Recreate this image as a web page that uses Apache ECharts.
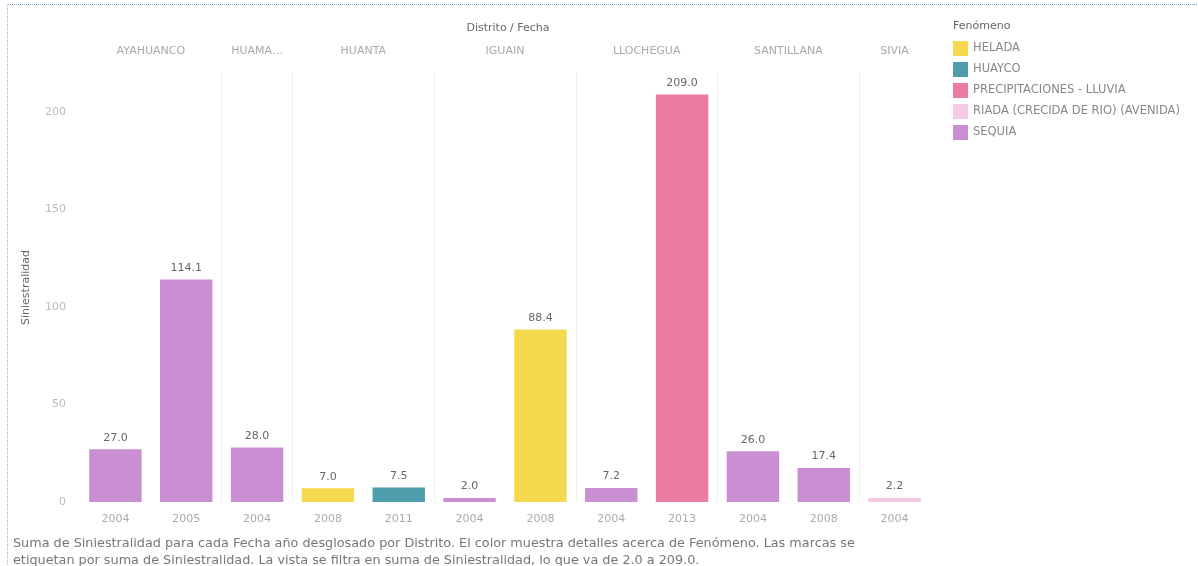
<!DOCTYPE html>
<html>
<head>
<meta charset="utf-8">
<script src="https://cdn.jsdelivr.net/npm/echarts@6/dist/echarts.min.js"></script>
<style>
  html, body { margin: 0; padding: 0; background: #fff; }
  #wrap { position: relative; width: 1198px; height: 566px; }
  #chart { position: absolute; left: 0; top: 0; width: 1198px; height: 566px; }
  #frame { position: absolute; left: 7px; top: 4px; width: 1191px; height: 562px;
           border-top: 1px dotted #6f9fd8; border-left: 1px dotted #8fb4e0; pointer-events: none; }
</style>
</head>
<body>
<div id="wrap"><div id="chart"></div><div id="frame"></div></div>
<script>
// ---- Data ----
const districtNames = ['AYAHUANCO', 'HUAMA…', 'HUANTA', 'IGUAIN', 'LLOCHEGUA', 'SANTILLANA', 'SIVIA'];
const barDistrict = [0, 0, 1, 2, 2, 3, 3, 4, 4, 5, 5, 6];
const barYears = ['2004', '2005', '2004', '2008', '2011', '2004', '2008', '2004', '2013', '2004', '2008', '2004'];
const barValues = [27.0, 114.1, 28.0, 7.0, 7.5, 2.0, 88.4, 7.2, 209.0, 26.0, 17.4, 2.2];
const barFenomeno = ['SEQUIA', 'SEQUIA', 'SEQUIA', 'HELADA', 'HUAYCO', 'SEQUIA', 'HELADA', 'SEQUIA',
                     'PRECIPITACIONES - LLUVIA', 'SEQUIA', 'SEQUIA', 'RIADA (CRECIDA DE RIO) (AVENIDA)'];
const fenomenos = ['HELADA', 'HUAYCO', 'PRECIPITACIONES - LLUVIA', 'RIADA (CRECIDA DE RIO) (AVENIDA)', 'SEQUIA'];
const fenomenoColors = ['#f6d84e', '#4f9dad', '#ec7ba3', '#f6cae3', '#c98fd2'];
const yTicks = [0, 50, 100, 150, 200];

// ---- Build district header axis (half-slot points) ----
const nSlots = barYears.length;
const headerData = new Array(2 * nSlots + 1).fill('');
const separators = [];
districtNames.forEach((name, d) => {
  const idx = barDistrict.map((v, i) => v === d ? i : -1).filter(i => i >= 0);
  const a = idx[0], b = idx[idx.length - 1];
  headerData[a + b + 1] = name;
  if (a > 0) separators.push(2 * a);
});

const series = fenomenos.map((f, k) => ({
  name: f,
  type: 'bar',
  stack: 'total',
  xAxisIndex: 0,
  barCategoryGap: '26%',
  itemStyle: { color: fenomenoColors[k] },
  label: {
    show: true, position: 'top', distance: 6,
    color: '#666', fontSize: 11, fontFamily: 'DejaVu Sans',
    formatter: p => (typeof p.value === 'number' ? p.value.toFixed(1) : '')
  },
  data: barValues.map((v, i) => barFenomeno[i] === f ? v : '-')
}));

const chart = echarts.init(document.getElementById('chart'));
chart.setOption({
  animation: false,
  backgroundColor: '#fff',
  title: [
    { text: 'Distrito / Fecha', left: 503, top: 18, textAlign: 'center',
      textStyle: { fontSize: 11, fontWeight: 'normal', color: '#666', fontFamily: 'DejaVu Sans' } },
    { text: 'Fenómeno', left: 948, top: 16,
      textStyle: { fontSize: 11, fontWeight: 'normal', color: '#666', fontFamily: 'DejaVu Sans' } },
    { text: 'Suma de Siniestralidad para cada Fecha año desglosado por Distrito. El color muestra detalles acerca de Fenómeno. Las marcas se\netiquetan por suma de Siniestralidad. La vista se filtra en suma de Siniestralidad, lo que va de 2.0 a 209.0.',
      left: 8, top: 530,
      textStyle: { fontSize: 12.8, fontWeight: 'normal', color: '#777', lineHeight: 17, fontFamily: 'DejaVu Sans' } }
  ],
  legend: {
    data: fenomenos,
    orient: 'vertical', left: 948, top: 36,
    itemWidth: 15, itemHeight: 15, itemGap: 6,
    icon: 'rect',
    textStyle: { fontSize: 11.5, color: '#888', fontFamily: 'DejaVu Sans' }
  },
  grid: { left: 80, right: 268, top: 73, bottom: 64 },
  xAxis: [
    {
      type: 'category', data: barYears, position: 'bottom',
      axisLine: { show: false }, axisTick: { show: false },
      axisLabel: { color: '#aaa', fontSize: 11, margin: 12, fontFamily: 'DejaVu Sans' },
      splitLine: { show: false }
    },
    {
      type: 'category', data: headerData, position: 'top', boundaryGap: false,
      axisLine: { show: false }, axisTick: { show: false },
      axisLabel: { interval: 0, color: '#aaa', fontSize: 11, margin: 16, fontFamily: 'DejaVu Sans' },
      splitLine: { show: true, interval: (i) => separators.includes(i),
                   lineStyle: { color: '#eeeeee', width: 1 } }
    }
  ],
  yAxis: {
    type: 'value', min: yTicks[0], max: 220, interval: yTicks[1] - yTicks[0],
    name: 'Siniestralidad', nameLocation: 'middle', nameGap: 48, nameRotate: 90,
    nameTextStyle: { color: '#666', fontSize: 11, fontFamily: 'DejaVu Sans' },
    axisLine: { show: false }, axisTick: { show: false },
    axisLabel: { color: '#bbb', fontSize: 11, margin: 14, showMaxLabel: false, fontFamily: 'DejaVu Sans' },
    splitLine: { show: false }
  },
  series: series
});
</script>
</body>
</html>
